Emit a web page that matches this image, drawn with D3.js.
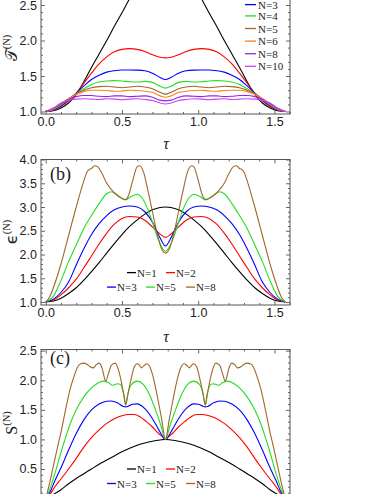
<!DOCTYPE html>
<html><head><meta charset="utf-8">
<script src="https://cdn.jsdelivr.net/npm/d3@7"></script>
<style>html,body{margin:0;padding:0;background:#fff;}svg{display:block}</style>
</head><body>
<svg id="chart" width="382" height="494"></svg>
<script>
// ---------- DATA ----------
const tauGrid = [0,0.05,0.1,0.15,0.2,0.25,0.3,0.35,0.4,0.45,0.5,0.55,0.6,0.65,0.7,0.75,0.785,0.821,0.871,0.921,0.971,1.021,1.071,1.121,1.171,1.221,1.271,1.321,1.371,1.421,1.471,1.521,1.571];

// panel (a): tangle T^(N)
const aN1 = [1,1.01,1.05,1.12,1.24,1.42,1.62,1.81,2.0,2.2,2.39,2.59,2.78,2.95,3.08,3.16,3.18,3.16,3.08,2.95,2.78,2.59,2.39,2.2,2.0,1.81,1.62,1.42,1.24,1.12,1.05,1.01,1];
const aN2 = [1,1.02,1.07,1.15,1.26,1.4,1.54,1.67,1.77,1.84,1.875,1.885,1.875,1.845,1.8,1.765,1.755,1.765,1.8,1.845,1.875,1.885,1.875,1.84,1.77,1.67,1.54,1.4,1.26,1.15,1.07,1.02,1];
const aN3 = [1,1.025,1.08,1.16,1.26,1.36,1.45,1.51,1.555,1.575,1.585,1.585,1.583,1.575,1.54,1.48,1.45,1.48,1.54,1.575,1.583,1.585,1.585,1.575,1.555,1.51,1.45,1.36,1.26,1.16,1.08,1.025,1];
const aN4 = [1,1.03,1.09,1.17,1.25,1.32,1.38,1.415,1.43,1.435,1.43,1.42,1.415,1.425,1.41,1.355,1.33,1.355,1.41,1.425,1.415,1.42,1.43,1.435,1.43,1.415,1.38,1.32,1.25,1.17,1.09,1.03,1];
const aN5 = [1,1.035,1.1,1.18,1.25,1.3,1.335,1.35,1.355,1.345,1.335,1.345,1.355,1.345,1.32,1.27,1.245,1.27,1.32,1.345,1.355,1.345,1.335,1.345,1.355,1.35,1.335,1.3,1.25,1.18,1.1,1.035,1];
const aN6 = [1,1.04,1.11,1.18,1.24,1.28,1.3,1.3,1.295,1.285,1.29,1.3,1.295,1.285,1.27,1.22,1.2,1.22,1.27,1.285,1.295,1.3,1.29,1.285,1.295,1.3,1.3,1.28,1.24,1.18,1.11,1.04,1];
const aN8 = [1,1.045,1.11,1.17,1.21,1.225,1.225,1.215,1.21,1.22,1.22,1.21,1.215,1.22,1.2,1.16,1.15,1.16,1.2,1.22,1.215,1.21,1.22,1.22,1.21,1.215,1.225,1.225,1.21,1.17,1.11,1.045,1];
const aN10 = [1,1.05,1.12,1.16,1.175,1.18,1.175,1.17,1.18,1.175,1.165,1.175,1.18,1.17,1.155,1.12,1.105,1.12,1.155,1.17,1.18,1.175,1.165,1.175,1.18,1.17,1.175,1.18,1.175,1.16,1.12,1.05,1];

// panel (b): epsilon^(N)
const bN1 = [1,1.02,1.08,1.18,1.3,1.46,1.64,1.83,2.03,2.23,2.42,2.59,2.73,2.85,2.94,2.99,3.0,2.99,2.94,2.85,2.73,2.59,2.42,2.23,2.03,1.83,1.64,1.46,1.3,1.18,1.08,1.02,1];
const bN2 = [1,1.04,1.15,1.3,1.48,1.72,1.97,2.22,2.45,2.64,2.76,2.8,2.79,2.72,2.58,2.43,2.36,2.43,2.58,2.72,2.79,2.8,2.76,2.64,2.45,2.22,1.97,1.72,1.48,1.3,1.15,1.04,1];
const bN3 = [1,1.06,1.2,1.42,1.78,2.12,2.42,2.65,2.82,2.94,3.0,3.02,3.0,2.9,2.68,2.35,2.18,2.35,2.68,2.9,3.0,3.02,3.0,2.94,2.82,2.65,2.42,2.12,1.78,1.42,1.2,1.06,1];
const bN5 = [[0,1],[0.05,1.12],[0.1,1.45],[0.15,1.85],[0.2,2.2],[0.25,2.55],[0.3,2.82],[0.35,3.07],[0.4,3.28],[0.43,3.32],[0.47,3.25],[0.524,3.15],[0.56,3.22],[0.6,3.27],[0.63,3.2],[0.67,2.95],[0.7,2.68],[0.74,2.3],[0.785,2.07],[0.831,2.3],[0.871,2.68],[0.901,2.95],[0.941,3.2],[0.971,3.27],[1.011,3.22],[1.047,3.15],[1.101,3.25],[1.141,3.32],[1.171,3.28],[1.221,3.07],[1.271,2.82],[1.321,2.55],[1.371,2.2],[1.421,1.85],[1.471,1.45],[1.521,1.12],[1.571,1]];
const bN8 = [[0,1],[0.025,1.1],[0.05,1.3],[0.1,1.8],[0.15,2.4],[0.2,3.0],[0.25,3.55],[0.27,3.73],[0.29,3.8],[0.3,3.81],[0.32,3.87],[0.34,3.85],[0.37,3.7],[0.4,3.5],[0.45,3.3],[0.5,3.18],[0.524,3.16],[0.54,3.22],[0.57,3.55],[0.6,3.85],[0.615,3.87],[0.64,3.75],[0.67,3.35],[0.7,2.9],[0.73,2.45],[0.76,2.12],[0.785,2.03],[0.811,2.12],[0.841,2.45],[0.871,2.9],[0.901,3.35],[0.931,3.75],[0.956,3.87],[0.971,3.85],[1.001,3.55],[1.031,3.22],[1.047,3.16],[1.071,3.18],[1.121,3.3],[1.171,3.5],[1.201,3.7],[1.231,3.85],[1.251,3.87],[1.271,3.81],[1.281,3.8],[1.301,3.73],[1.321,3.55],[1.371,3.0],[1.421,2.4],[1.471,1.8],[1.521,1.3],[1.546,1.1],[1.571,1]];

// panel (c): S^(N)
const cN1 = [0,0.07,0.15,0.25,0.34,0.42,0.5,0.58,0.65,0.72,0.79,0.85,0.9,0.94,0.97,0.99,1.0,0.99,0.97,0.94,0.9,0.85,0.79,0.72,0.65,0.58,0.5,0.42,0.34,0.25,0.15,0.07,0];
const cN2 = [[0,0],[0.03,0.08],[0.06,0.2],[0.1,0.33],[0.15,0.5],[0.2,0.68],[0.25,0.87],[0.3,1.03],[0.35,1.16],[0.4,1.27],[0.45,1.35],[0.5,1.4],[0.55,1.42],[0.58,1.42],[0.62,1.38],[0.66,1.3],[0.7,1.21],[0.74,1.1],[0.77,1.035],[0.785,1.0],[0.801,1.035],[0.831,1.1],[0.871,1.21],[0.911,1.3],[0.951,1.38],[0.991,1.42],[1.021,1.42],[1.071,1.4],[1.121,1.35],[1.171,1.27],[1.221,1.16],[1.271,1.03],[1.321,0.87],[1.371,0.68],[1.421,0.5],[1.471,0.33],[1.511,0.2],[1.541,0.08],[1.571,0]];
const cN3 = [[0,0],[0.03,0.12],[0.06,0.3],[0.1,0.52],[0.15,0.82],[0.2,1.1],[0.25,1.33],[0.3,1.5],[0.35,1.6],[0.4,1.645],[0.43,1.65],[0.47,1.62],[0.51,1.555],[0.524,1.55],[0.54,1.56],[0.57,1.595],[0.6,1.6],[0.65,1.52],[0.7,1.35],[0.74,1.17],[0.785,1.0],[0.831,1.17],[0.871,1.35],[0.921,1.52],[0.971,1.6],[1.001,1.595],[1.031,1.56],[1.047,1.55],[1.061,1.555],[1.101,1.62],[1.141,1.65],[1.171,1.645],[1.221,1.6],[1.271,1.5],[1.321,1.33],[1.371,1.1],[1.421,0.82],[1.471,0.52],[1.511,0.3],[1.541,0.12],[1.571,0]];
const cN5 = [[0,0],[0.03,0.18],[0.06,0.42],[0.1,0.78],[0.13,1.03],[0.16,1.26],[0.2,1.5],[0.25,1.72],[0.3,1.87],[0.34,1.95],[0.38,1.985],[0.41,1.96],[0.44,1.915],[0.47,1.94],[0.49,1.93],[0.51,1.78],[0.524,1.59],[0.54,1.78],[0.56,1.92],[0.6,1.985],[0.64,1.93],[0.68,1.76],[0.72,1.5],[0.755,1.24],[0.785,1.0],[0.816,1.24],[0.851,1.5],[0.891,1.76],[0.931,1.93],[0.971,1.985],[1.011,1.92],[1.031,1.78],[1.047,1.59],[1.061,1.78],[1.081,1.93],[1.101,1.94],[1.131,1.915],[1.161,1.96],[1.191,1.985],[1.231,1.95],[1.271,1.87],[1.321,1.72],[1.371,1.5],[1.411,1.26],[1.441,1.03],[1.471,0.78],[1.511,0.42],[1.541,0.18],[1.571,0]];
const cN8 = [[0,0],[0.02,0.2],[0.05,0.55],[0.08,0.9],[0.1,1.12],[0.13,1.5],[0.16,1.85],[0.19,2.1],[0.21,2.23],[0.23,2.28],[0.25,2.29],[0.27,2.27],[0.29,2.23],[0.314,2.21],[0.33,2.26],[0.35,2.29],[0.37,2.2],[0.385,2.04],[0.393,1.98],[0.41,2.1],[0.43,2.25],[0.455,2.29],[0.48,2.15],[0.5,1.92],[0.515,1.72],[0.524,1.58],[0.54,1.78],[0.56,2.02],[0.58,2.22],[0.6,2.28],[0.615,2.25],[0.628,2.21],[0.645,2.25],[0.665,2.28],[0.68,2.24],[0.7,2.1],[0.72,1.88],[0.74,1.62],[0.76,1.35],[0.785,1.0],[0.811,1.35],[0.831,1.62],[0.851,1.88],[0.871,2.1],[0.891,2.24],[0.906,2.28],[0.926,2.25],[0.943,2.21],[0.956,2.25],[0.971,2.28],[0.991,2.22],[1.011,2.02],[1.031,1.78],[1.047,1.58],[1.056,1.72],[1.071,1.92],[1.091,2.15],[1.116,2.29],[1.141,2.25],[1.161,2.1],[1.178,1.98],[1.186,2.04],[1.201,2.2],[1.221,2.29],[1.241,2.26],[1.257,2.21],[1.281,2.23],[1.301,2.27],[1.321,2.29],[1.341,2.28],[1.361,2.23],[1.381,2.1],[1.411,1.85],[1.441,1.5],[1.471,1.12],[1.491,0.9],[1.521,0.55],[1.551,0.2],[1.571,0]];

const xMajorTicks = [0,0.5,1.0,1.5];
const legendA = ["N=3","N=4","N=5","N=6","N=8","N=10"];
const legendBC = [["N=1","N=2"],["N=3","N=5","N=8"]];

// ---------- STYLE ----------
const C = {N1:"#000000",N2:"#ff0000",N3:"#0000ff",N4:"#22dd22",N5:"#a0662a",N6:"#ff7f1e",N8:"#8a2be2",N10:"#d43cff"};
const gridPts = vals => vals.map((v,i)=>[tauGrid[i],v]);

const svg = d3.select("#chart");
const X0=41, X1=290;
const x = d3.scaleLinear().domain([-0.031,1.602]).range([X0,X1]);
const sansFont = "'Liberation Sans', Arial, sans-serif";
const serifFont = "'Liberation Serif', 'Times New Roman', serif";

function drawPanel(cfg){
  const y = d3.scaleLinear().domain(cfg.yDomain).range([cfg.bottom, cfg.top]);
  const g = svg.append("g");
  const clipId = "clip-"+cfg.id;
  svg.append("clipPath").attr("id",clipId).append("rect")
    .attr("x",X0).attr("y",cfg.top).attr("width",X1-X0).attr("height",cfg.bottom-cfg.top);
  const line = d3.line().x(d=>x(d[0])).y(d=>y(d[1])).curve(d3.curveMonotoneX);
  g.append("g").attr("clip-path",`url(#${clipId})`)
    .selectAll("path").data(cfg.series).join("path")
    .attr("d",s=>line(s.points)).attr("fill","none")
    .attr("stroke",s=>s.color).attr("stroke-width",1.1);

  const isMajor = v => Math.abs(v*2-Math.round(v*2))<1e-6;
  const xMinor = d3.range(0,16.01,1).map(v=>v/10).filter(v=>!isMajor(v));
  const yMinor = d3.range(Math.ceil(cfg.yDomain[0]*10), Math.floor(cfg.yDomain[1]*10)+1).map(v=>v/10).filter(v=>!isMajor(v));
  const yMajor = d3.range(Math.ceil(cfg.yDomain[0]*2), Math.floor(cfg.yDomain[1]*2)+1).map(v=>v/2);
  const fmt = d3.format(".1f");
  const clean = sel => sel.call(s=>s.select(".domain").remove());
  const ax = (gen, tr) => g.append("g").attr("transform",tr).call(gen).call(clean);

  ax(d3.axisBottom(x).tickValues(xMajorTicks).tickSize(-4).tickPadding(3)
     .tickFormat(d=>cfg.xLabels?fmt(d):""), `translate(0,${cfg.bottom})`);
  ax(d3.axisBottom(x).tickValues(xMinor).tickSize(-2).tickFormat(""), `translate(0,${cfg.bottom})`);
  ax(d3.axisTop(x).tickValues(xMajorTicks).tickSize(-4).tickFormat(""), `translate(0,${cfg.top})`);
  ax(d3.axisTop(x).tickValues(xMinor).tickSize(-2).tickFormat(""), `translate(0,${cfg.top})`);
  ax(d3.axisLeft(y).tickValues(yMajor).tickSize(-4).tickPadding(4)
     .tickFormat(d=>cfg.yLabelVals.includes(d)?fmt(d):""), `translate(${X0},0)`);
  ax(d3.axisLeft(y).tickValues(yMinor).tickSize(-2).tickFormat(""), `translate(${X0},0)`);
  ax(d3.axisRight(y).tickValues(yMajor).tickSize(-4).tickFormat(""), `translate(${X1},0)`);
  ax(d3.axisRight(y).tickValues(yMinor).tickSize(-2).tickFormat(""), `translate(${X1},0)`);

  g.selectAll(".tick line").attr("stroke","#555").attr("stroke-width",0.9);
  g.selectAll(".tick text").attr("font-family",sansFont).attr("font-size",12.5).attr("fill","#222");

  g.append("rect").attr("x",X0).attr("y",cfg.top).attr("width",X1-X0).attr("height",cfg.bottom-cfg.top)
    .attr("fill","none").attr("stroke","#555").attr("stroke-width",1);

  // y label
  const yl = g.append("text").attr("transform",`translate(${cfg.yLab.x},${cfg.yLab.y}) rotate(-90)`)
    .attr("text-anchor","middle").attr("fill","#222");
  yl.append("tspan").attr("font-family",cfg.yLab.font).attr("font-size",cfg.yLab.size).text(cfg.yLab.main);
  yl.append("tspan").attr("font-family",serifFont).attr("font-size",10.5).attr("dy",-7).text("(N)");

  if(cfg.xTitleY){
    g.append("text").attr("x",166).attr("y",cfg.xTitleY).attr("text-anchor","middle")
      .attr("font-family",serifFont).attr("font-style","italic").attr("font-size",16).attr("fill","#222").text("τ");
  }
  if(cfg.tag){
    g.append("text").attr("x",50).attr("y",cfg.tag.y).attr("font-family",serifFont)
      .attr("font-size",18).attr("fill","#222").text(cfg.tag.t);
  }
  return {g,y};
}

// panel (a)
const pa = drawPanel({id:"a", yDomain:[0.965,3.1], bottom:114, top:-37.6, xLabels:true,
  yLabelVals:[1,1.5,2,2.5], xTitleY:149,
  yLab:{x:17,y:48,main:"𝒯",font:"'DejaVu Serif', serif",size:16},
  series:[
    {points:gridPts(aN1),color:C.N1},{points:gridPts(aN2),color:C.N2},{points:gridPts(aN3),color:C.N3},
    {points:gridPts(aN4),color:C.N4},{points:gridPts(aN5),color:C.N5},{points:gridPts(aN6),color:C.N6},
    {points:gridPts(aN8),color:C.N8},{points:gridPts(aN10),color:C.N10}]});

// panel (b)
const pb = drawPanel({id:"b", yDomain:[0.937,4.0], bottom:305, top:159.5, xLabels:true,
  yLabelVals:[1,1.5,2,2.5,3,3.5,4], xTitleY:342, tag:{t:"(b)",y:180},
  yLab:{x:17,y:232,main:"ϵ",font:"'DejaVu Sans', sans-serif",size:16},
  series:[{points:gridPts(bN1),color:C.N1},{points:gridPts(bN2),color:C.N2},{points:gridPts(bN3),color:C.N3},
    {points:bN5,color:C.N4},{points:bN8,color:C.N5}]});

// panel (c)
const pc = drawPanel({id:"c", yDomain:[-0.055,2.52], bottom:501.8, top:349.5, xLabels:false,
  yLabelVals:[0.5,1,1.5,2,2.5], tag:{t:"(c)",y:364},
  yLab:{x:17,y:423,main:"S",font:serifFont,size:16},
  series:[{points:gridPts(cN1),color:C.N1},{points:cN2,color:C.N2},{points:cN3,color:C.N3},
    {points:cN5,color:C.N4},{points:cN8,color:C.N5}]});

// legends
const legA = svg.append("g");
const colA = [C.N3,C.N4,C.N5,C.N6,C.N8,C.N10];
legendA.forEach((t,i)=>{
  const yy = i===0 ? 4.6 : 3.3 + i*12.6;
  legA.append("line").attr("x1",245).attr("x2",256).attr("y1",yy).attr("y2",yy).attr("stroke",colA[i]).attr("stroke-width",1.3);
  legA.append("text").attr("x",258).attr("y",yy+4).attr("font-family",serifFont).attr("font-size",11).attr("fill","#222").text(t);
});
function legendBC_draw(row1Y){
  const rows = [
    [{x:127,c:C.N1},{x:166,c:C.N2}],
    [{x:107,c:C.N3},{x:146,c:C.N4},{x:186,c:C.N5}]];
  const lg = svg.append("g");
  rows.forEach((r,ri)=>{
    const yy = row1Y + ri*14.5;
    r.forEach((e,ei)=>{
      lg.append("line").attr("x1",e.x).attr("x2",e.x+9).attr("y1",yy).attr("y2",yy).attr("stroke",e.c).attr("stroke-width",1.3);
      lg.append("text").attr("x",e.x+10).attr("y",yy+4).attr("font-family",serifFont).attr("font-size",11).attr("fill","#222").text(legendBC[ri][ei]);
    });
  });
}
legendBC_draw(272.6);
legendBC_draw(469);
</script>
</body></html>
